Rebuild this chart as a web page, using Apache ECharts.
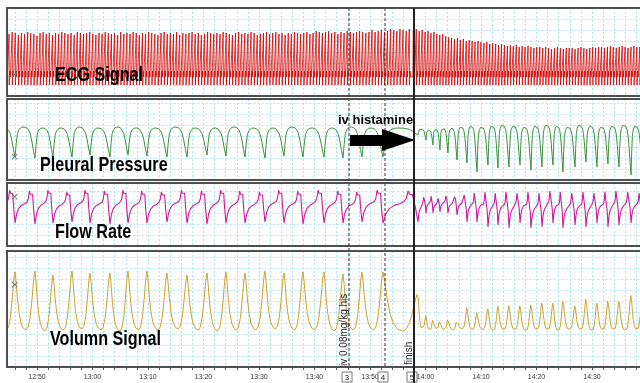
<!DOCTYPE html>
<html>
<head>
<meta charset="utf-8">
<script src="https://cdn.jsdelivr.net/npm/echarts@6/dist/echarts.min.js"></script>
<style>
  html, body { margin: 0; padding: 0; background: #fff; }
  #chart { width: 640px; height: 383px; }
</style>
</head>
<body>
<div id="chart"></div>
<script>
// time is minutes after 12:00, signal values are px-units above each panel's floor

// one entry per breath (inspiration end)
var breathT = [42.61, 46.04, 49.64, 52.88, 56.31, 59.55, 63.15, 66.40, 69.82, 73.42, 77.03, 80.63, 84.05, 87.48, 91.08, 94.50, 97.93, 101.71, 105.14, 108.56, 112.34,
  118.65, 120.09, 121.35, 122.61, 124.05, 125.68, 127.48, 129.28, 131.26, 133.06, 135.05, 137.03, 139.01, 140.99, 142.97, 144.77, 146.94, 148.92, 150.90, 152.88, 154.86, 157.03, 159.01];
var volPeak = [94, 95, 96, 92, 96, 94, 94, 96, 96, 94, 92, 94, 95, 94, 96, 94, 95, 95, 93, 95, 95,
  74, 52, 49, 47, 49, 47, 60, 55, 59, 62, 62, 62, 63, 65, 65, 67, 62, 69, 65, 67, 67, 73, 67];
var volTrough = [37, 37, 36, 37, 38, 37, 36, 37, 37, 38, 37, 36, 37, 37, 38, 37, 37, 36, 37, 37, 36,
  38, 37, 38, 37, 37, 38, 37, 37, 36, 37, 37, 36, 37, 37, 36, 37, 37, 36, 37, 37, 36, 37];
var pleuralTrough = [24, 23, 22, 23, 23, 25, 23, 25, 24, 23, 23, 25, 24, 23, 22, 24, 23, 23, 22, 23, 23,
  45, 40, 35, 30, 27, 20, 17, 8, 15, 12, 13, 15, 10, 13, 15, 8, 13, 18, 13, 16, 13, 5, 15];
var pleuralTop = [52, 53, 52, 52, 53, 52, 53, 52, 52, 53, 52, 52, 53, 52, 52, 53, 52, 52, 53, 52, 52,
  51, 50, 51, 52, 52, 53, 54, 53, 54, 55, 54, 53, 54, 55, 54, 53, 55, 54, 53, 54, 55, 54];
var flowTrough = [23, 23, 22, 23, 24, 23, 22, 23, 23, 24, 23, 22, 23, 23, 24, 23, 22, 23, 23, 24, 23,
  24, 33, 33, 34, 33, 31, 24, 24, 19, 21, 18, 23, 18, 19, 23, 18, 21, 19, 23, 19, 21, 23, 23];
var flowPeak = [56, 55, 56, 54, 56, 55, 56, 55, 54, 56, 55, 56, 55, 54, 56, 55, 56, 55, 54, 56, 55,
  49, 50, 48, 50, 49, 51, 53, 54, 53, 54, 53, 54, 53, 55, 54, 53, 54, 53, 54, 55, 54, 53];

// breath shapes: [phase, fraction of swing]
var pleuralShape = [[0, 0], [0.06, 0.45], [0.12, 0.78], [0.2, 0.92], [0.32, 0.99], [0.45, 1], [0.58, 0.97], [0.68, 0.9], [0.76, 0.78], [0.84, 0.55], [0.92, 0.25]];
var flowShape = [[0, 0], [0.08, 0.28], [0.18, 0.45], [0.32, 0.55], [0.48, 0.6], [0.6, 0.66], [0.66, 0.75], [0.72, 1], [0.76, 0.9], [0.8, 0.93], [0.84, 0.88], [0.88, 0.9], [0.93, 0.45]];
var volShape = [[0, 1], [0.05, 0.85], [0.12, 0.55], [0.2, 0.3], [0.3, 0.12], [0.42, 0.03], [0.55, 0], [0.66, 0.05], [0.76, 0.22], [0.85, 0.52], [0.92, 0.8], [0.97, 0.96]];

// ECG: R-peak height of each beat
var ecgPre = [63, 62, 64, 63, 61, 63, 62, 64, 63, 62, 60, 63, 64, 62, 63, 61, 63,
  62, 64, 63, 62, 63, 61, 64, 63, 62, 63, 64, 62, 61, 63, 62, 64, 63,
  62, 63, 61, 64, 62, 63, 62, 64, 63, 61, 63, 62, 64, 63, 62, 61, 63,
  64, 62, 63, 62, 64, 61, 63, 62, 63, 64, 62, 63, 61, 62, 64, 63, 62,
  63, 62, 64, 63, 62, 61, 63, 64, 62, 63, 62, 64, 63, 61, 62, 63, 64,
  62, 63, 64, 62, 63, 61, 63, 62, 64, 63, 62, 63, 64, 62, 63, 65, 64,
  63, 64, 65, 63, 64, 62, 64, 63, 65, 64, 63, 64, 65, 64, 63, 64, 66,
  64, 65, 66, 64, 65, 67, 66, 65, 67, 66, 65, 67];
var ecgPost = [66, 67, 65, 66, 64, 65, 63, 64, 62, 61, 62, 60, 59,
  58, 57, 58, 56, 57, 55, 56, 55, 54, 55,
  54, 53, 54, 52, 53, 52, 51, 52, 51, 50,
  51, 50, 51, 49, 50, 49, 50, 49, 48, 49,
  49, 48, 49, 48, 47, 48, 49, 48, 47, 48, 48,
  48, 47, 48, 49, 48, 47, 48, 49, 48, 49,
  49, 48, 49, 50, 49, 48, 49, 50, 49, 48, 49, 50, 49, 49];
var ecgPreStart = 44.2, ecgPrePeriod = 0.559;
var ecgPostStart = 117.6, ecgPostPeriod = 0.53;
var ecgBase = 19;
// [dt, offset from baseline]; null marks the R peak
var ecgShape = [[0, 0], [0.06, 2], [0.12, 0], [0.18, -2], [0.21, null], [0.24, -8], [0.28, 0], [0.36, 6], [0.44, 0]];

// events: iv 0.08mg/kg his, mark 4, finish
var eventT = [106.22, 112.70, 117.93];
var eventNo = ['3', '4', '5'];

var panelTop = [8, 99, 183, 251];
var panelHeight = [88, 81, 63, 116];
var panelNames = ['ECG Signal', 'Pleural Pressure', 'Flow Rate', 'Volumn Signal'];
var nameX = [55, 40, 55, 50];
var nameY = [75.5, 165.5, 232.5, 339.5];
var crossY = [75, 157, 197, 285];

function buildBreaths(shape, lowArr, highArr, lowSwitch) {
  var out = [];
  for (var i = 0; i < breathT.length - 1; i++) {
    var t0 = breathT[i], t1 = breathT[i + 1];
    shape.forEach(function (p) {
      var a, b;
      if (lowSwitch) { // low end changes at mid-breath
        a = p[0] < 0.5 ? lowArr[i] : lowArr[i + 1];
        b = highArr[i];
      } else {         // high end changes at mid-breath
        a = lowArr[i];
        b = p[0] < 0.5 ? highArr[i] : highArr[i + 1];
      }
      out.push([t0 + p[0] * (t1 - t0), a + p[1] * (b - a)]);
    });
  }
  return out;
}

function buildEcg() {
  var out = [];
  function beats(start, period, peaks) {
    peaks.forEach(function (pk, k) {
      var tb = start + k * period;
      ecgShape.forEach(function (s) {
        out.push([tb + s[0], s[1] === null ? pk : ecgBase + s[1]]);
      });
    });
  }
  beats(ecgPreStart, ecgPrePeriod, ecgPre);
  beats(ecgPostStart, ecgPostPeriod, ecgPost);
  return out;
}

var ecgData = buildEcg();
var pleuralData = buildBreaths(pleuralShape, pleuralTrough, pleuralTop, true);
var flowData = buildBreaths(flowShape, flowTrough, flowPeak, true);
var volData = buildBreaths(volShape, volTrough, volPeak, false);

var gridCol = '#ade6ee';
var chart = echarts.init(document.getElementById('chart'));

var grids = [], xAxes = [], yAxes = [];
panelTop.forEach(function (top, i) {
  grids.push({ left: -18.5, width: 666, top: top, height: panelHeight[i], show: false,
    containLabel: false, outerBoundsMode: 'none' });
  var last = i === panelTop.length - 1;
  xAxes.push({
    type: 'value', gridIndex: i, min: 40, max: 160, interval: 10,
    axisLine: { show: false },
    axisTick: { show: last, length: 3, lineStyle: { color: '#555' } },
    minorTick: { show: last, splitNumber: 5, length: 3, lineStyle: { color: '#555' } },
    axisLabel: {
      show: last, margin: 7, fontSize: 7, color: '#333', fontFamily: 'Liberation Sans, Arial',
      showMinLabel: false, showMaxLabel: false, hideOverlap: false,
      formatter: function (v) {
        var h = 12 + Math.floor(v / 60), m = v % 60;
        return h + ':' + (m < 10 ? '0' : '') + m;
      }
    },
    splitLine: { show: true, lineStyle: { color: gridCol, type: [2, 2], width: 1 } },
    minorSplitLine: { show: true, lineStyle: { color: gridCol, type: [2, 2], width: 1 } }
  });
  yAxes.push({
    type: 'value', gridIndex: i, min: 0, max: panelHeight[i], interval: 11,
    axisLine: { show: false }, axisTick: { show: false }, axisLabel: { show: false },
    splitLine: { show: true, lineStyle: { color: gridCol, type: [2, 2], width: 1 } }
  });
});

function lineSeries(idx, data, color, w) {
  return {
    type: 'line', xAxisIndex: idx, yAxisIndex: idx, data: data,
    showSymbol: false, symbol: 'none', silent: true, sampling: null,
    lineStyle: { color: color, width: w }, z: 3
  };
}

chart.setOption({
  animation: false,
  backgroundColor: '#fff',
  grid: grids,
  xAxis: xAxes,
  yAxis: yAxes,
  series: [
    lineSeries(0, ecgData, '#d40000', 0.8),
    lineSeries(1, pleuralData, '#3f8f3f', 1),
    lineSeries(2, flowData, '#d01a9e', 1.1),
    lineSeries(3, volData, '#c9a230', 1)
  ]
});

// overlays: frames, event marks, titles
var px = function (t) { return chart.convertToPixel({ xAxisIndex: 3 }, t); };
var gfx = [];
gfx.push({ type: 'rect', shape: { x: 0, y: 0, width: 6.5, height: 383 }, style: { fill: '#fff' }, z: 50, silent: true });
panelTop.forEach(function (top, i) {
  gfx.push({ type: 'rect', shape: { x: 7, y: top, width: 650, height: panelHeight[i] },
    style: { fill: 'none', stroke: '#4f4f4f', lineWidth: 2 }, z: 60, silent: true });
  gfx.push({ type: 'text', x: 10, y: crossY[i], z: 61, silent: true,
    style: { text: '\u00d7', font: '11px "DejaVu Sans", sans-serif', fill: '#777',
      align: 'left', verticalAlign: 'middle', textAlign: 'left', textVerticalAlign: 'middle' } });
  gfx.push({ type: 'text', x: nameX[i], y: nameY[i], scaleX: 0.77, z: 70, silent: true,
    style: { text: panelNames[i], font: 'bold 21px "Liberation Sans", Arial, sans-serif', fill: '#000',
      align: 'left', verticalAlign: 'middle', textAlign: 'left', textVerticalAlign: 'middle' } });
});

var ex = eventT.map(px);
var yTop = panelTop[0], yBot = panelTop[3] + panelHeight[3];
[0, 1].forEach(function (k) {
  gfx.push({ type: 'line', shape: { x1: ex[k], y1: yTop, x2: ex[k], y2: yBot }, z: 55, silent: true,
    style: { stroke: '#333', lineWidth: 1, lineDash: [3, 2] } });
});
gfx.push({ type: 'line', shape: { x1: ex[2], y1: yTop, x2: ex[2], y2: 383 }, z: 65, silent: true,
  style: { stroke: '#222', lineWidth: 2 } });
eventNo.forEach(function (s, k) {
  gfx.push({ type: 'rect', shape: { x: ex[k] - 7, y: 372, width: 10, height: 10 }, z: 62, silent: true,
    style: { fill: '#fff', stroke: '#777', lineWidth: 1 } });
  gfx.push({ type: 'text', x: ex[k] - 2, y: 377.5, z: 63, silent: true,
    style: { text: s, font: '8px "Liberation Sans", Arial', fill: '#222',
      align: 'center', verticalAlign: 'middle', textAlign: 'center', textVerticalAlign: 'middle' } });
});
gfx.push({ type: 'text', x: ex[0] - 5, y: 366, rotation: Math.PI / 2, z: 63, silent: true,
  style: { text: 'iv 0.08mg/kg his', font: '10px "Liberation Sans", Arial', fill: '#222',
    align: 'left', verticalAlign: 'middle', textAlign: 'left', textVerticalAlign: 'middle' } });
gfx.push({ type: 'text', x: ex[2] - 5, y: 365, rotation: Math.PI / 2, z: 63, silent: true,
  style: { text: 'finish', font: '10px "Liberation Sans", Arial', fill: '#222',
    align: 'left', verticalAlign: 'middle', textAlign: 'left', textVerticalAlign: 'middle' } });

// iv histamine arrow
var a0 = ex[0] + 1, a1 = ex[2] + 1, hb = a1 - 33;
gfx.push({ type: 'polygon', z: 70, silent: true,
  shape: { points: [[a0, 135], [hb, 135], [hb, 129], [a1, 140], [hb, 151], [hb, 146], [a0, 146]] },
  style: { fill: '#000' } });
gfx.push({ type: 'text', x: 338, y: 120, z: 70, silent: true,
  style: { text: 'iv histamine', font: 'bold 13px "Liberation Sans", Arial', fill: '#000',
    align: 'left', verticalAlign: 'middle', textAlign: 'left', textVerticalAlign: 'middle' } });

chart.setOption({ graphic: { elements: gfx } });
</script>
</body>
</html>
